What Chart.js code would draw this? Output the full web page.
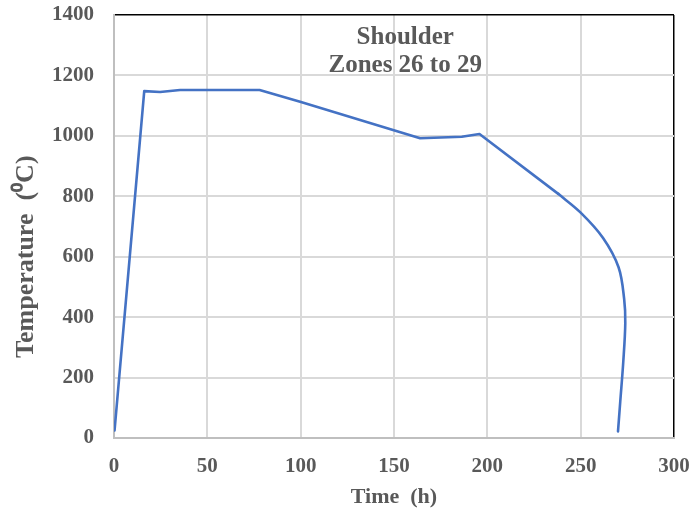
<!DOCTYPE html>
<html>
<head>
<meta charset="utf-8">
<script src="https://cdn.jsdelivr.net/npm/chart.js@4.4.1/dist/chart.umd.min.js"></script>
<style>
html,body{margin:0;padding:0;background:#fff;}
#wrap{width:693px;height:515px;position:relative;}
</style>
</head>
<body>
<div id="wrap"><canvas id="c" width="693" height="515"></canvas></div>
<script>
// Data
const timeH = [0.3, 16.2, 24.7, 35.4, 78, 99.7, 164, 186.3, 195.8, 238, 250, 262, 270.3, 273.3, 273.9, 272.8, 271.2, 270];
const tempC = [25, 1148, 1145, 1152, 1152, 1113, 992, 997, 1006, 808, 746, 662, 565, 460, 380, 250, 120, 22];
const curveStart = 9; // index where the smooth cooling curve begins
const xTicks = [0, 50, 100, 150, 200, 250, 300];
const yTicks = [0, 200, 400, 600, 800, 1000, 1200, 1400];
const titleLines = ["Shoulder", "Zones 26 to 29"];
const xTitle = "Time  (h)";
const yTitle = "Temperature  (\u2070C)";

const points = timeH.map((t, i) => ({x: t, y: tempC[i]}));
const straightPart = points.slice(0, curveStart + 1);
const curvedPart = points.slice(curveStart);
const serif = "'Liberation Serif', 'Times New Roman', serif";
const txtColor = '#595959';
const lineColor = '#4472C4';

const textPlugin = {
  id: 'textPlugin',
  afterDatasetsDraw(chart) {
    const {ctx, scales} = chart;
    ctx.save();
    ctx.fillStyle = txtColor;
    ctx.font = "bold 25px " + serif;
    ctx.textAlign = 'center';
    ctx.textBaseline = 'middle';
    const cx = scales.x.getPixelForValue(156);
    ctx.fillText(titleLines[0], cx, scales.y.getPixelForValue(1326));
    ctx.fillText(titleLines[1], cx, scales.y.getPixelForValue(1233));
    ctx.font = "bold 26px " + serif;
    ctx.translate(26, scales.y.getPixelForValue(600));
    ctx.rotate(-Math.PI / 2);
    ctx.fillText(yTitle, 0, 0);
    ctx.restore();
  }
};

const lineStyle = {showLine: true, borderColor: lineColor, borderWidth: 2.6, pointRadius: 0, fill: false, borderCapStyle: 'round', borderJoinStyle: 'round'};

new Chart(document.getElementById('c'), {
  type: 'scatter',
  data: {
    datasets: [
      Object.assign({data: straightPart, tension: 0}, lineStyle),
      Object.assign({data: curvedPart, tension: 0.35}, lineStyle)
    ]
  },
  options: {
    responsive: false,
    animation: false,
    devicePixelRatio: 1,
    layout: {padding: {top: 0, right: 0, left: 0, bottom: 0}},
    plugins: {legend: {display: false}, tooltip: {enabled: false}},
    scales: {
      x: {
        type: 'linear', min: 0, max: 300,
        afterBuildTicks: s => { s.ticks = xTicks.map(v => ({value: v})); },
        afterFit: s => { s.height = 77; s.paddingRight = 19; s.paddingLeft = 0; },
        ticks: {color: txtColor, font: {family: serif, size: 21, weight: 'bold'}, padding: 16, maxRotation: 0,
                callback: v => String(v)},
        grid: {
          color: c => c.tick && c.tick.value === 300 ? '#000' : '#d9d9d9',
          lineWidth: c => c.tick && c.tick.value === 300 ? 1.5 : 2,
          drawTicks: false
        },
        border: {color: '#bfbfbf', width: 2},
        title: {display: true, text: xTitle, color: txtColor, font: {family: serif, size: 22, weight: 'bold'}, padding: {top: 2}}
      },
      y: {
        type: 'linear', min: 0, max: 1400,
        afterBuildTicks: s => { s.ticks = yTicks.map(v => ({value: v})); },
        afterFit: s => { s.width = 114; s.paddingTop = 15; s.paddingBottom = 0; },
        ticks: {color: txtColor, font: {family: serif, size: 21, weight: 'bold'}, padding: 20,
                callback: v => String(v)},
        grid: {
          color: c => c.tick && c.tick.value === 1400 ? '#000' : '#d9d9d9',
          lineWidth: c => c.tick && c.tick.value === 1400 ? 1.5 : 2,
          drawTicks: false
        },
        border: {color: '#bfbfbf', width: 2},
        title: {display: false}
      }
    }
  },
  plugins: [textPlugin]
});
</script>
</body>
</html>
